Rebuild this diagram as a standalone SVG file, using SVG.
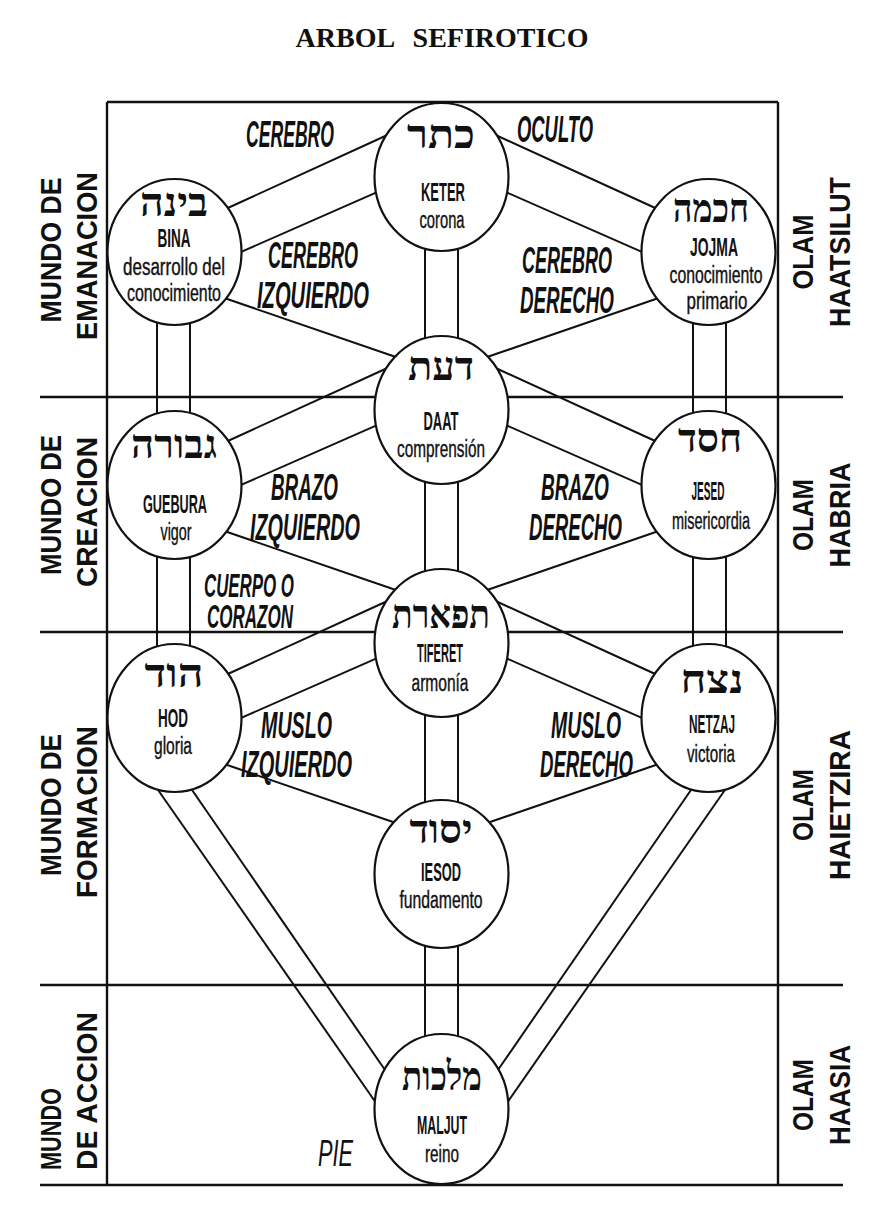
<svg xmlns="http://www.w3.org/2000/svg" width="882" height="1215" viewBox="0 0 882 1215">
<style>
.frame{stroke:#111;stroke-width:2.4;fill:none}
.ln{stroke:#111;stroke-width:2;fill:none}
.node ellipse{fill:#fff;stroke:#111;stroke-width:2.2}
.heb{font-family:"Liberation Serif","DejaVu Serif",serif;font-weight:bold;font-size:40px;text-anchor:middle;fill:#111}
.nm{font-family:"Liberation Sans",Arial,sans-serif;font-weight:bold;font-size:26px;text-anchor:middle;fill:#111}
.ds{font-family:"Liberation Sans",Arial,sans-serif;font-size:23px;text-anchor:middle;fill:#111;stroke:#111;stroke-width:0.4}
.lab{font-family:"Liberation Sans",Arial,sans-serif;font-style:italic;font-weight:bold;font-size:37px;fill:#111}
.side{font-family:"Liberation Sans",Arial,sans-serif;font-weight:bold;font-size:30px;text-anchor:middle;fill:#111}
.title{font-family:"Liberation Serif","Times New Roman",serif;font-weight:bold;font-size:28px;text-anchor:middle;fill:#111;word-spacing:12px}
</style>
<rect x="0" y="0" width="882" height="1215" fill="#fff"/>
<text class="title" x="442" y="47">ARBOL SEFIROTICO</text>
<g id="frame">
<line class="frame" x1="107" y1="102" x2="778" y2="102"/>
<line class="frame" x1="107" y1="102" x2="107" y2="1185"/>
<line class="frame" x1="778" y1="102" x2="778" y2="1185"/>
<line class="frame" x1="40" y1="397" x2="843" y2="397"/>
<line class="frame" x1="40" y1="632" x2="843" y2="632"/>
<line class="frame" x1="40" y1="985" x2="843" y2="985"/>
<line class="frame" x1="40" y1="1185" x2="843" y2="1185"/>
</g>
<g id="connectors">
<line class="ln" x1="157" y1="252" x2="157" y2="718"/>
<line class="ln" x1="190" y1="252" x2="190" y2="718"/>
<line class="ln" x1="693" y1="252" x2="693" y2="718"/>
<line class="ln" x1="726" y1="252" x2="726" y2="718"/>
<line class="ln" x1="425" y1="177" x2="425" y2="1109"/>
<line class="ln" x1="458" y1="177" x2="458" y2="1109"/>
<line class="ln" x1="388.5" y1="134.5" x2="224.5" y2="209.5"/>
<line class="ln" x1="380.5" y1="190.6" x2="235.5" y2="254.4"/>
<line class="ln" x1="224.3" y1="298" x2="401.7" y2="359"/>
<line class="ln" x1="494.5" y1="134.5" x2="658.5" y2="209.5"/>
<line class="ln" x1="502.5" y1="190.6" x2="647.5" y2="254.4"/>
<line class="ln" x1="658.7" y1="298" x2="481.3" y2="359"/>
<line class="ln" x1="388.5" y1="367.5" x2="224.5" y2="442.5"/>
<line class="ln" x1="380.5" y1="423.6" x2="235.5" y2="487.4"/>
<line class="ln" x1="224.3" y1="531" x2="401.7" y2="592"/>
<line class="ln" x1="494.5" y1="367.5" x2="658.5" y2="442.5"/>
<line class="ln" x1="502.5" y1="423.6" x2="647.5" y2="487.4"/>
<line class="ln" x1="658.7" y1="531" x2="481.3" y2="592"/>
<line class="ln" x1="388.5" y1="600.5" x2="224.5" y2="675.5"/>
<line class="ln" x1="380.5" y1="656.6" x2="235.5" y2="720.4"/>
<line class="ln" x1="224.3" y1="764" x2="401.7" y2="825"/>
<line class="ln" x1="494.5" y1="600.5" x2="658.5" y2="675.5"/>
<line class="ln" x1="502.5" y1="656.6" x2="647.5" y2="720.4"/>
<line class="ln" x1="658.7" y1="764" x2="481.3" y2="825"/>
<line class="ln" x1="154.6" y1="785" x2="378.9" y2="1107"/>
<line class="ln" x1="188.6" y1="785" x2="387.8" y2="1074"/>
<line class="ln" x1="728.4" y1="785" x2="504.1" y2="1107"/>
<line class="ln" x1="694.4" y1="785" x2="495.2" y2="1074"/>
</g>
<g id="keter" class="node"><ellipse cx="441.5" cy="177" rx="67" ry="74"/>
<text class="heb" x="441" y="148" textLength="68" lengthAdjust="spacingAndGlyphs">כתר</text>
<text class="nm" x="443" y="201" textLength="44" lengthAdjust="spacingAndGlyphs">KETER</text>
<text class="ds" x="442" y="228" textLength="45" lengthAdjust="spacingAndGlyphs">corona</text></g>
<g id="bina" class="node"><ellipse cx="174.5" cy="252" rx="67" ry="73"/>
<text class="heb" x="174" y="216" textLength="68" lengthAdjust="spacingAndGlyphs">בינה</text>
<text class="nm" x="174" y="247" textLength="33" lengthAdjust="spacingAndGlyphs">BINA</text>
<text class="ds" x="174" y="275" textLength="102" lengthAdjust="spacingAndGlyphs">desarrollo del</text>
<text class="ds" x="174" y="301" textLength="94" lengthAdjust="spacingAndGlyphs">conocimiento</text></g>
<g id="jojma" class="node"><ellipse cx="708.5" cy="252" rx="67" ry="73"/>
<text class="heb" x="711" y="222" textLength="76" lengthAdjust="spacingAndGlyphs">חכמה</text>
<text class="nm" x="714" y="256" textLength="48" lengthAdjust="spacingAndGlyphs">JOJMA</text>
<text class="ds" x="716" y="283" textLength="93" lengthAdjust="spacingAndGlyphs">conocimiento</text>
<text class="ds" x="717" y="309" textLength="61" lengthAdjust="spacingAndGlyphs">primario</text></g>
<g id="daat" class="node"><ellipse cx="441.5" cy="410" rx="67" ry="74"/>
<text class="heb" x="441" y="380" textLength="66" lengthAdjust="spacingAndGlyphs">דעת</text>
<text class="nm" x="441" y="430" textLength="35" lengthAdjust="spacingAndGlyphs">DAAT</text>
<text class="ds" x="441" y="457" textLength="88" lengthAdjust="spacingAndGlyphs">comprensión</text></g>
<g id="guebura" class="node"><ellipse cx="174.5" cy="485" rx="67" ry="74"/>
<text class="heb" x="174" y="458" textLength="86" lengthAdjust="spacingAndGlyphs">גבורה</text>
<text class="nm" x="175" y="513" textLength="64" lengthAdjust="spacingAndGlyphs">GUEBURA</text>
<text class="ds" x="176" y="540" textLength="31" lengthAdjust="spacingAndGlyphs">vigor</text></g>
<g id="jesed" class="node"><ellipse cx="708.5" cy="485" rx="67" ry="74"/>
<text class="heb" x="710" y="452" textLength="64" lengthAdjust="spacingAndGlyphs">חסד</text>
<text class="nm" x="708" y="500" textLength="33" lengthAdjust="spacingAndGlyphs">JESED</text>
<text class="ds" x="711" y="529" textLength="78" lengthAdjust="spacingAndGlyphs">misericordia</text></g>
<g id="tiferet" class="node"><ellipse cx="441.5" cy="643" rx="67" ry="74"/>
<text class="heb" x="441" y="628" textLength="98" lengthAdjust="spacingAndGlyphs">תפארת</text>
<text class="nm" x="440" y="662" textLength="46" lengthAdjust="spacingAndGlyphs">TIFERET</text>
<text class="ds" x="440" y="691" textLength="57" lengthAdjust="spacingAndGlyphs">armonía</text></g>
<g id="hod" class="node"><ellipse cx="174.5" cy="718" rx="67" ry="74"/>
<text class="heb" x="174" y="687" textLength="59" lengthAdjust="spacingAndGlyphs">הוד</text>
<text class="nm" x="173" y="727" textLength="30" lengthAdjust="spacingAndGlyphs">HOD</text>
<text class="ds" x="173" y="754" textLength="38" lengthAdjust="spacingAndGlyphs">gloria</text></g>
<g id="netzaj" class="node"><ellipse cx="708.5" cy="718" rx="67" ry="74"/>
<text class="heb" x="712" y="693" textLength="63" lengthAdjust="spacingAndGlyphs">נצח</text>
<text class="nm" x="712" y="733" textLength="46" lengthAdjust="spacingAndGlyphs">NETZAJ</text>
<text class="ds" x="711" y="762" textLength="48" lengthAdjust="spacingAndGlyphs">victoria</text></g>
<g id="iesod" class="node"><ellipse cx="441.5" cy="874" rx="67" ry="74"/>
<text class="heb" x="441" y="843" textLength="63" lengthAdjust="spacingAndGlyphs">יסוד</text>
<text class="nm" x="441" y="881" textLength="40" lengthAdjust="spacingAndGlyphs">IESOD</text>
<text class="ds" x="441" y="908" textLength="83" lengthAdjust="spacingAndGlyphs">fundamento</text></g>
<g id="maljut" class="node"><ellipse cx="441.5" cy="1109" rx="67" ry="75"/>
<text class="heb" x="442" y="1090" textLength="80" lengthAdjust="spacingAndGlyphs">מלכות</text>
<text class="nm" x="442" y="1134" textLength="50" lengthAdjust="spacingAndGlyphs">MALJUT</text>
<text class="ds" x="442" y="1162" textLength="34" lengthAdjust="spacingAndGlyphs">reino</text></g>
<g id="labels">
<text class="lab" x="246" y="147" textLength="88" lengthAdjust="spacingAndGlyphs">CEREBRO</text>
<text class="lab" x="517" y="142" textLength="76" lengthAdjust="spacingAndGlyphs">OCULTO</text>
<text class="lab" x="268" y="268" textLength="90" lengthAdjust="spacingAndGlyphs">CEREBRO</text>
<text class="lab" x="257" y="308" textLength="112" lengthAdjust="spacingAndGlyphs">IZQUIERDO</text>
<text class="lab" x="522" y="273" textLength="90" lengthAdjust="spacingAndGlyphs">CEREBRO</text>
<text class="lab" x="520" y="313" textLength="94" lengthAdjust="spacingAndGlyphs">DERECHO</text>
<text class="lab" x="271" y="500" textLength="67" lengthAdjust="spacingAndGlyphs">BRAZO</text>
<text class="lab" x="250" y="540" textLength="110" lengthAdjust="spacingAndGlyphs">IZQUIERDO</text>
<text class="lab" x="541" y="500" textLength="68" lengthAdjust="spacingAndGlyphs">BRAZO</text>
<text class="lab" x="529" y="540" textLength="93" lengthAdjust="spacingAndGlyphs">DERECHO</text>
<text class="lab" x="204" y="597" textLength="90" lengthAdjust="spacingAndGlyphs" style="font-size:34px">CUERPO O</text>
<text class="lab" x="207" y="628" textLength="86" lengthAdjust="spacingAndGlyphs" style="font-size:34px">CORAZON</text>
<text class="lab" x="261" y="738" textLength="71" lengthAdjust="spacingAndGlyphs">MUSLO</text>
<text class="lab" x="241" y="777" textLength="111" lengthAdjust="spacingAndGlyphs">IZQUIERDO</text>
<text class="lab" x="551" y="738" textLength="70" lengthAdjust="spacingAndGlyphs">MUSLO</text>
<text class="lab" x="540" y="777" textLength="93" lengthAdjust="spacingAndGlyphs">DERECHO</text>
<text class="lab" x="318" y="1166" textLength="35" lengthAdjust="spacingAndGlyphs" style="font-weight:normal">PIE</text>
</g>
<g id="worlds-left">
<text class="side" transform="translate(61,250) rotate(-90)" textLength="145" lengthAdjust="spacingAndGlyphs">MUNDO DE</text>
<text class="side" transform="translate(97,256) rotate(-90)" textLength="168" lengthAdjust="spacingAndGlyphs">EMANACION</text>
<text class="side" transform="translate(61,505) rotate(-90)" textLength="140" lengthAdjust="spacingAndGlyphs">MUNDO DE</text>
<text class="side" transform="translate(97,512) rotate(-90)" textLength="150" lengthAdjust="spacingAndGlyphs">CREACION</text>
<text class="side" transform="translate(61,805) rotate(-90)" textLength="142" lengthAdjust="spacingAndGlyphs">MUNDO DE</text>
<text class="side" transform="translate(97,812) rotate(-90)" textLength="172" lengthAdjust="spacingAndGlyphs">FORMACION</text>
<text class="side" transform="translate(61,1170) rotate(-90)" textLength="82" lengthAdjust="spacingAndGlyphs" style="text-anchor:start">MUNDO</text>
<text class="side" transform="translate(97,1170) rotate(-90)" textLength="158" lengthAdjust="spacingAndGlyphs" style="text-anchor:start">DE ACCION</text>
</g>
<g id="worlds-right">
<text class="side" transform="translate(813,252) rotate(-90)" textLength="75" lengthAdjust="spacingAndGlyphs">OLAM</text>
<text class="side" transform="translate(850,252) rotate(-90)" textLength="150" lengthAdjust="spacingAndGlyphs">HAATSILUT</text>
<text class="side" transform="translate(813,515) rotate(-90)" textLength="72" lengthAdjust="spacingAndGlyphs">OLAM</text>
<text class="side" transform="translate(850,515) rotate(-90)" textLength="105" lengthAdjust="spacingAndGlyphs">HABRIA</text>
<text class="side" transform="translate(813,805) rotate(-90)" textLength="72" lengthAdjust="spacingAndGlyphs">OLAM</text>
<text class="side" transform="translate(850,805) rotate(-90)" textLength="150" lengthAdjust="spacingAndGlyphs">HAIETZIRA</text>
<text class="side" transform="translate(813,1095) rotate(-90)" textLength="72" lengthAdjust="spacingAndGlyphs">OLAM</text>
<text class="side" transform="translate(850,1095) rotate(-90)" textLength="100" lengthAdjust="spacingAndGlyphs">HAASIA</text>
</g>
</svg>
